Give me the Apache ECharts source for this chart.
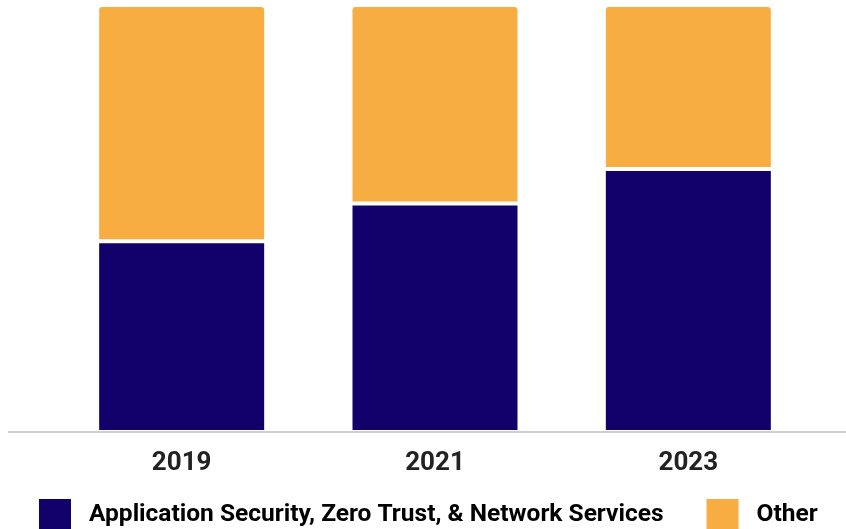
<!DOCTYPE html>
<html>
<head>
<meta charset="utf-8">
<script src="https://cdn.jsdelivr.net/npm/echarts@6/dist/echarts.min.js"></script>
<style>
  html, body { margin: 0; padding: 0; background: #fff; }
  #chart { width: 846px; height: 529px; }
</style>
</head>
<body>
<div id="chart"></div>
<script>
var years = ['2019', '2021', '2023'];
var appSecData = [44.7, 53.5, 61.6];
var otherData = [55.3, 46.5, 38.4];
var seriesNames = ['Application Security, Zero Trust, & Network Services', 'Other'];

var chart = echarts.init(document.getElementById('chart'));

var option = {
    animation: false,
    grid: { left: 55, right: 31, top: 5, bottom: 97 },
    legend: {
        data: seriesNames,
        left: 37,
        top: 497,
        padding: 0,
        itemWidth: 34,
        itemHeight: 34,
        itemGap: 41,
        icon: 'rect',
        textStyle: {
            fontFamily: 'Roboto',
            fontWeight: 'bold',
            fontSize: 24.5,
            color: '#000',
            padding: [0, 0, 0, 12]
        }
    },
    xAxis: {
        type: 'category',
        data: years,
        axisLine: { show: false },
        axisTick: { show: false },
        axisLabel: {
            margin: 18,
            fontFamily: 'Roboto',
            fontWeight: 'bold',
            fontSize: 26,
            color: '#222'
        }
    },
    yAxis: {
        type: 'value',
        min: 0,
        max: 100,
        show: false
    },
    graphic: [{
        type: 'line',
        shape: { x1: 8, y1: 432, x2: 846, y2: 432 },
        style: { stroke: '#cfcfcf', lineWidth: 2 },
        z: 100
    }],
    series: [
        {
            name: seriesNames[0],
            type: 'bar',
            stack: 'total',
            barWidth: 169,
            data: appSecData,
            itemStyle: { color: '#12006b', borderColor: '#fff', borderWidth: 2 }
        },
        {
            name: seriesNames[1],
            type: 'bar',
            stack: 'total',
            barWidth: 169,
            data: otherData,
            itemStyle: { color: '#f8ad43', borderColor: '#fff', borderWidth: 2, borderRadius: [4, 4, 0, 0] }
        }
    ]
};

chart.setOption(option);
</script>
</body>
</html>
